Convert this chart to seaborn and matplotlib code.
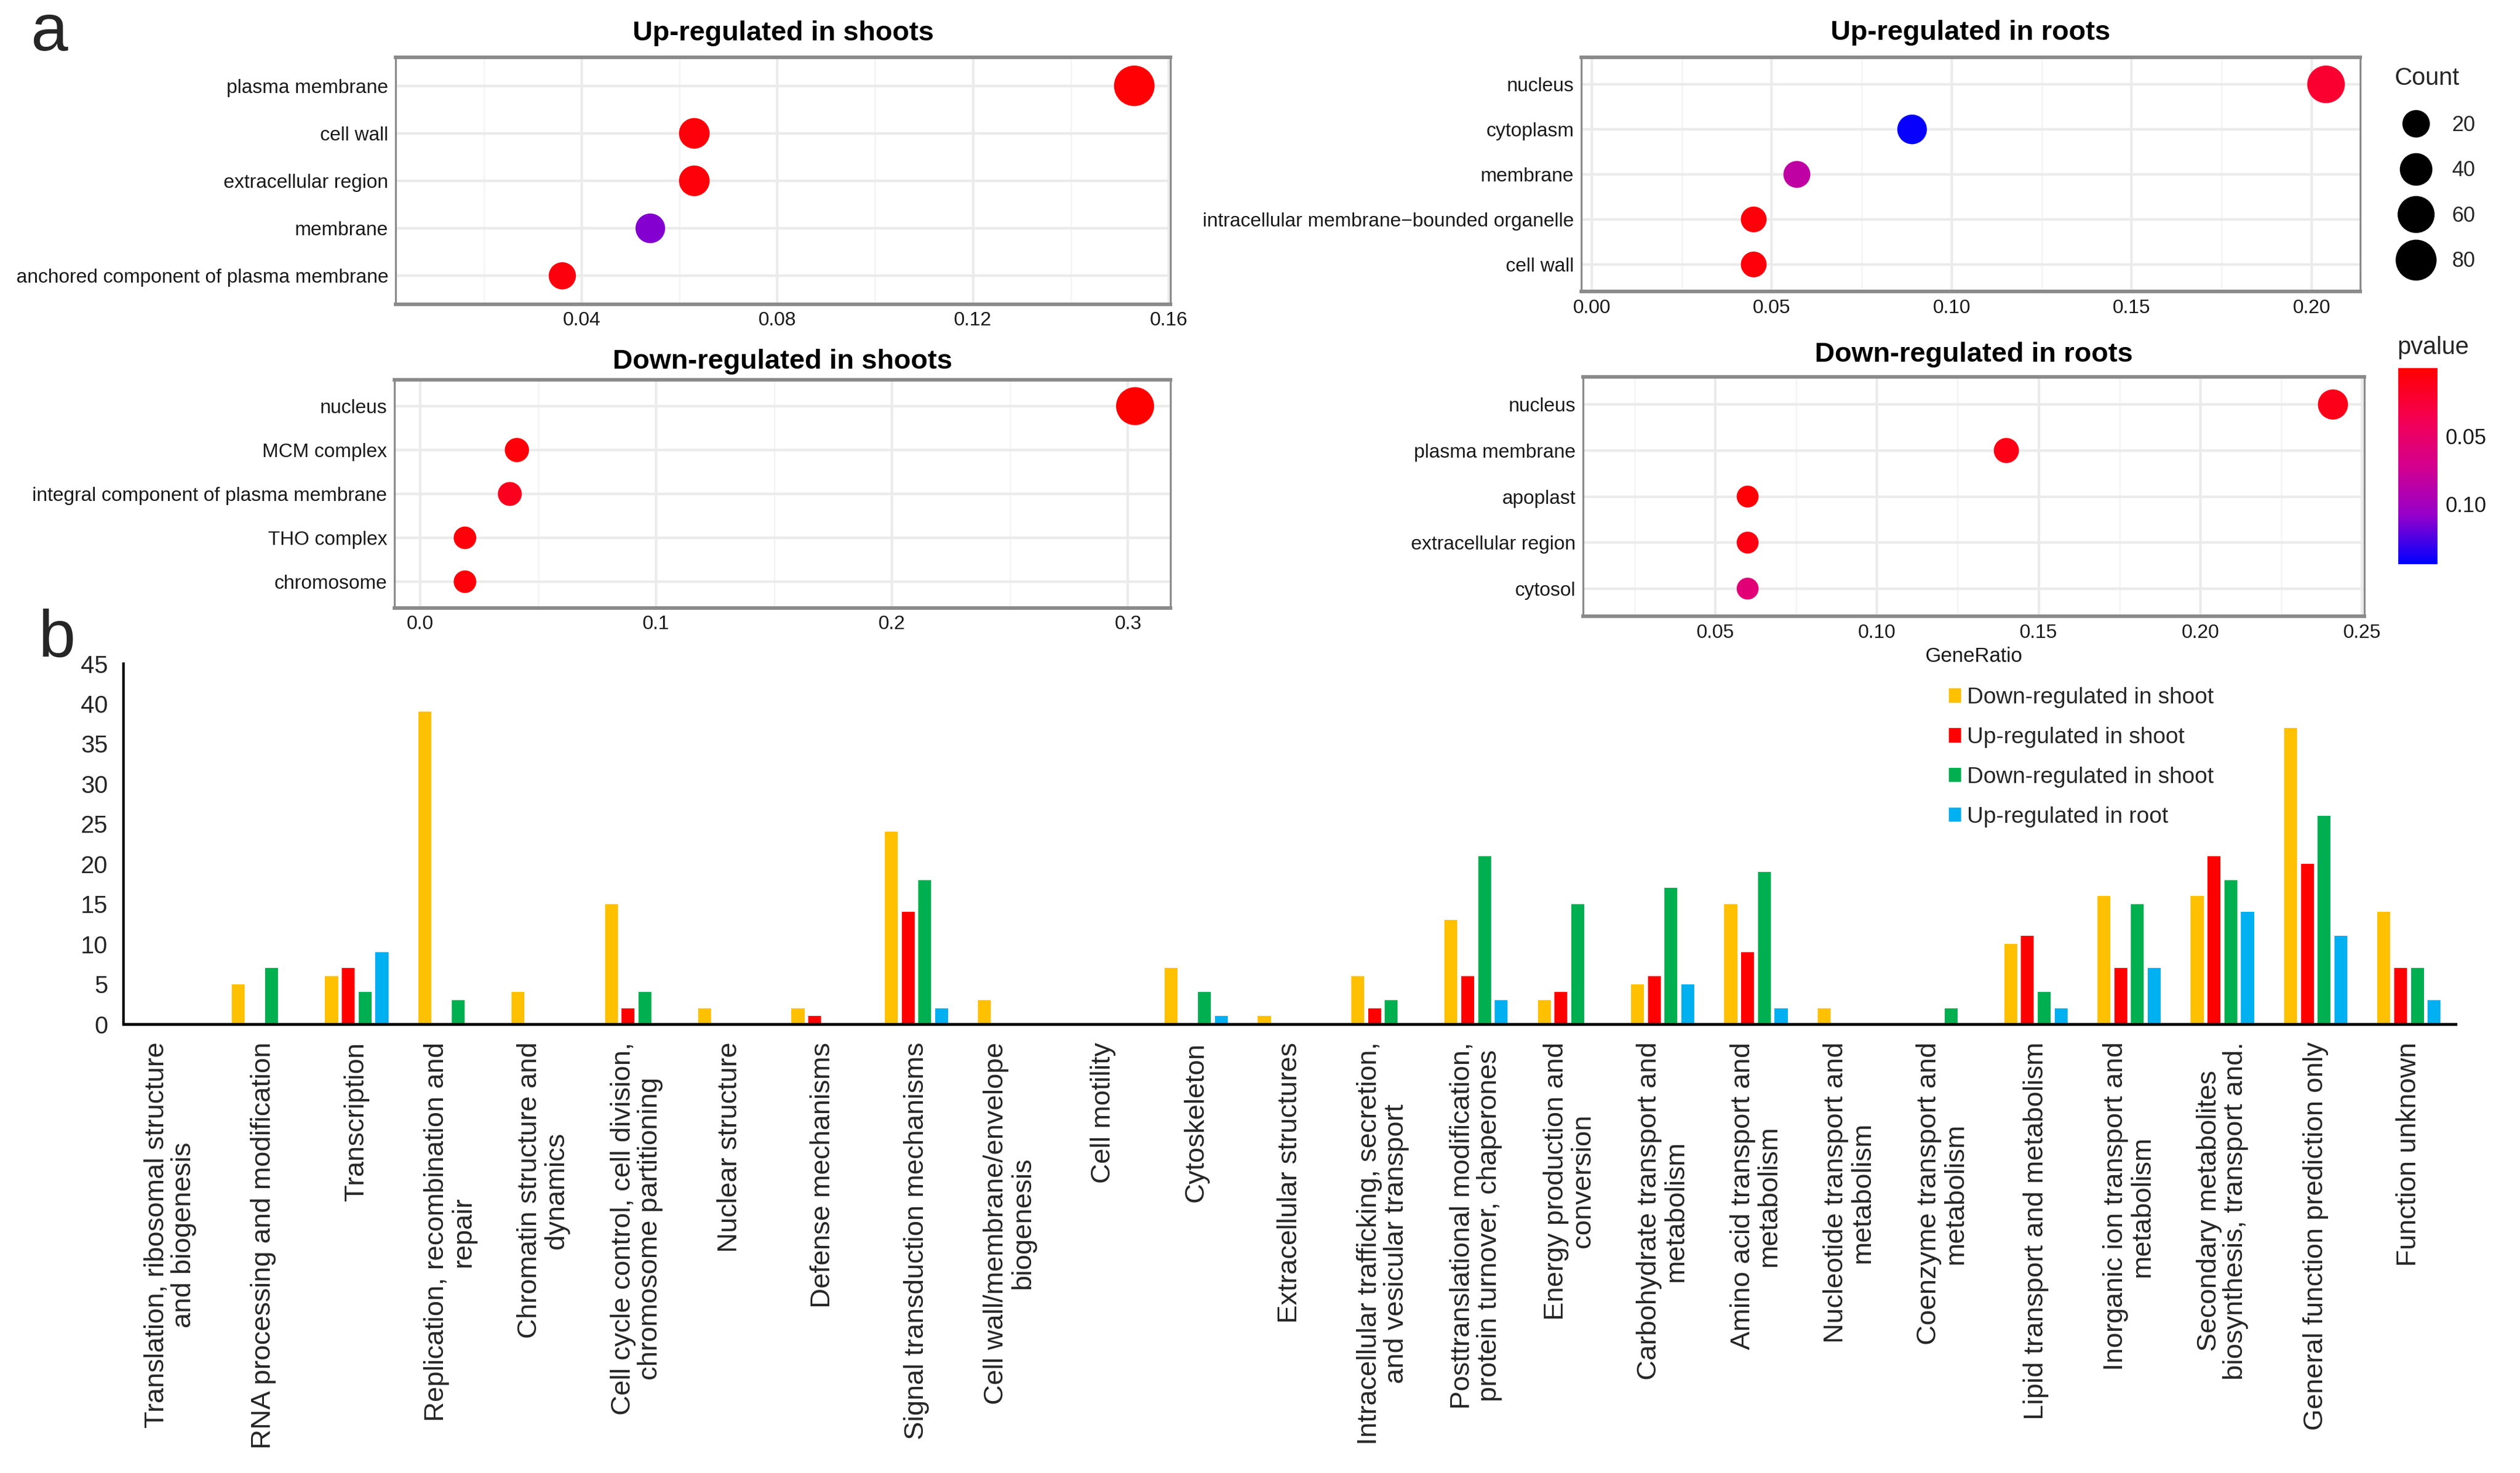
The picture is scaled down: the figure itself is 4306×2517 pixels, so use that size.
import numpy as np
import pandas as pd
import matplotlib
matplotlib.use("Agg")
import matplotlib.pyplot as plt
import seaborn as sns
from matplotlib.colors import LinearSegmentedColormap, Normalize
from matplotlib.cm import ScalarMappable
from matplotlib.lines import Line2D
from matplotlib.patches import Patch
from matplotlib.ticker import MultipleLocator, FixedLocator

# ---------------- panel a data ----------------
up_shoot_terms = ["plasma membrane", "cell wall", "extracellular region", "membrane",
                  "anchored component of plasma membrane"]
up_shoot_ratio = [0.153, 0.063, 0.063, 0.054, 0.036]
up_shoot_count = [78, 32, 32, 28, 19]
up_shoot_p = [0.002, 0.004, 0.004, 0.112, 0.006]
up_shoot_xticks = [0.04, 0.08, 0.12, 0.16]
up_shoot_xticklabels = ["0.04", "0.08", "0.12", "0.16"]

down_shoot_terms = ["nucleus", "MCM complex", "integral component of plasma membrane",
                    "THO complex", "chromosome"]
down_shoot_ratio = [0.303, 0.041, 0.038, 0.019, 0.019]
down_shoot_count = [65, 9, 8, 4, 4]
down_shoot_p = [0.001, 0.004, 0.014, 0.004, 0.004]
down_shoot_xticks = [0.0, 0.1, 0.2, 0.3]
down_shoot_xticklabels = ["0.0", "0.1", "0.2", "0.3"]

up_root_terms = ["nucleus", "cytoplasm", "membrane",
                 "intracellular membrane\u2212bounded organelle", "cell wall"]
up_root_ratio = [0.204, 0.089, 0.057, 0.045, 0.045]
up_root_count = [63, 28, 18, 14, 14]
up_root_p = [0.022, 0.142, 0.084, 0.004, 0.005]
up_root_xticks = [0.00, 0.05, 0.10, 0.15, 0.20]
up_root_xticklabels = ["0.00", "0.05", "0.10", "0.15", "0.20"]

down_root_terms = ["nucleus", "plasma membrane", "apoplast", "extracellular region", "cytosol"]
down_root_ratio = [0.241, 0.140, 0.060, 0.060, 0.060]
down_root_count = [30, 12, 2, 2, 2]
down_root_p = [0.012, 0.010, 0.003, 0.008, 0.058]
down_root_xticks = [0.05, 0.10, 0.15, 0.20, 0.25]
down_root_xticklabels = ["0.05", "0.10", "0.15", "0.20", "0.25"]

count_breaks = [20, 40, 60, 80]
pvalue_breaks = [0.05, 0.10]
pvalue_breaklabels = ["0.05", "0.10"]

# ---------------- panel b data ----------------
cog_labels = [
    "Translation, ribosomal structure\nand biogenesis",
    "RNA processing and modification",
    "Transcription",
    "Replication, recombination and\nrepair",
    "Chromatin structure and\ndynamics",
    "Cell cycle control, cell division,\nchromosome partitioning",
    "Nuclear structure",
    "Defense mechanisms",
    "Signal transduction mechanisms",
    "Cell wall/membrane/envelope\nbiogenesis",
    "Cell motility",
    "Cytoskeleton",
    "Extracellular structures",
    "Intracellular trafficking, secretion,\nand vesicular transport",
    "Posttranslational modification,\nprotein turnover, chaperones",
    "Energy production and\nconversion",
    "Carbohydrate transport and\nmetabolism",
    "Amino acid transport and\nmetabolism",
    "Nucleotide transport and\nmetabolism",
    "Coenzyme transport and\nmetabolism",
    "Lipid transport and metabolism",
    "Inorganic ion transport and\nmetabolism",
    "Secondary metabolites\nbiosynthesis, transport and.",
    "General function prediction only",
    "Function unknown",
]
down_shoot_cog = [0, 5, 6, 39, 4, 15, 2, 2, 24, 3, 0, 7, 1, 6, 13, 3, 5, 15, 2, 0, 10, 16, 16, 37, 14]
up_shoot_cog = [0, 0, 7, 0, 0, 2, 0, 1, 14, 0, 0, 0, 0, 2, 6, 4, 6, 9, 0, 0, 11, 7, 21, 20, 7]
down_root_cog = [0, 7, 4, 3, 0, 4, 0, 0, 18, 0, 0, 4, 0, 3, 21, 15, 17, 19, 0, 2, 4, 15, 18, 26, 7]
up_root_cog = [0, 0, 9, 0, 0, 0, 0, 0, 2, 0, 0, 1, 0, 0, 3, 0, 5, 2, 0, 0, 2, 7, 14, 11, 3]
group_keys = ["DS", "US", "DR", "UR"]
group_legend_labels = ["Down-regulated in shoot", "Up-regulated in shoot",
                       "Down-regulated in shoot", "Up-regulated in root"]
bar_colors = ["#FFC000", "#FF0000", "#00B050", "#00B0F0"]
bar_yticks = [0, 5, 10, 15, 20, 25, 30, 35, 40, 45]

# ---------------- style ----------------
sns.set_style("white")
plt.rcParams["font.family"] = ["Liberation Sans", "DejaVu Sans"]
plt.rcParams["axes.unicode_minus"] = True

W, H = 4306, 2517
DPI = 200
fig = plt.figure(figsize=(W / DPI, H / DPI), dpi=DPI)


def fx(px):
    return px / W


def fy(py):
    return 1 - py / H


def rect(x0, y0, x1, y1):
    return [fx(x0), fy(y1), (x1 - x0) / W, (y1 - y0) / H]


cmap = LinearSegmentedColormap.from_list(
    "rb", [(0.0, "#FF0000"), (0.25, "#F50050"), (0.5, "#D4008E"), (0.75, "#9600CA"), (1.0, "#0000FF")])
pmin, pmax = 0.0, 0.144
pnorm = Normalize(pmin, pmax)
size_range = (170, 634)
size_norm = (0, 80)

panels = [
    dict(terms=up_shoot_terms, ratio=up_shoot_ratio, count=up_shoot_count, p=up_shoot_p,
         title="Up-regulated in shoots", box=(676, 98, 2000, 520), xlim=(0.0019, 0.1604),
         ticks=up_shoot_xticks, labels=up_shoot_xticklabels, minor=0.02, toff=0.096, xlabel=""),
    dict(terms=down_shoot_terms, ratio=down_shoot_ratio, count=down_shoot_count, p=down_shoot_p,
         title="Down-regulated in shoots", box=(674, 649, 2000, 1039), xlim=(-0.0109, 0.318),
         ticks=down_shoot_xticks, labels=down_shoot_xticklabels, minor=0.05, toff=0.08, xlabel=""),
    dict(terms=up_root_terms, ratio=up_root_ratio, count=up_root_count, p=up_root_p,
         title="Up-regulated in roots", box=(2702, 98, 4033, 498), xlim=(-0.0029, 0.2135),
         ticks=up_root_xticks, labels=up_root_xticklabels, minor=0.025, toff=0.105, xlabel=""),
    dict(terms=down_root_terms, ratio=down_root_ratio, count=down_root_count, p=down_root_p,
         title="Down-regulated in roots", box=(2705, 644, 4040, 1053), xlim=(0.0091, 0.2507),
         ticks=down_root_xticks, labels=down_root_xticklabels, minor=0.025, toff=0.093,
         xlabel="GeneRatio"),
]

for pn in panels:
    ax = fig.add_axes(rect(*pn["box"]))
    df = pd.DataFrame({"Description": pn["terms"], "GeneRatio": pn["ratio"],
                       "Count": pn["count"], "pvalue": pn["p"]})
    sns.scatterplot(data=df, x="GeneRatio", y="Description", hue="pvalue", size="Count",
                    palette=cmap, hue_norm=(pmin, pmax), sizes=size_range, size_norm=size_norm,
                    edgecolor="none", linewidth=0, legend=False, ax=ax, zorder=3)
    ax.set_ylim(len(pn["terms"]) - 0.4, -0.6)
    ax.set_xlim(*pn["xlim"])
    ax.set_xticks(pn["ticks"])
    ax.set_xticklabels(pn["labels"])
    ax.xaxis.set_minor_locator(MultipleLocator(pn["minor"]))
    ax.set_axisbelow(True)
    ax.grid(True, which="major", color="#EBEBEB", lw=1.6)
    ax.grid(True, which="minor", axis="x", color="#F4F4F4", lw=0.9)
    ax.set_ylabel("")
    ax.set_xlabel(pn["xlabel"], fontsize=12.5, labelpad=3, color="#1A1A1A")
    ax.tick_params(axis="both", which="major", length=3, width=0.9, color="#555555",
                   labelsize=12, pad=1.5, labelcolor="#1A1A1A", direction="out")
    ax.tick_params(axis="x", which="minor", length=0)
    for s in ax.spines.values():
        s.set_color("#8A8A8A")
        s.set_linewidth(1.2)
    ax.spines["top"].set_linewidth(2.2)
    ax.spines["bottom"].set_linewidth(2.2)
    ax.text(0.5, 1 + pn["toff"], pn["title"], transform=ax.transAxes, ha="center", va="center",
            fontsize=17, fontweight="bold", color="black")

# Count legend
count_handles = [Line2D([], [], marker="o", linestyle="none", color="black", markeredgewidth=0,
                        markersize=np.sqrt(size_range[0] + (size_range[1] - size_range[0]) * c / size_norm[1]))
                 for c in count_breaks]
leg = fig.legend(count_handles, [str(c) for c in count_breaks], title="Count", loc="upper left",
                 bbox_to_anchor=(fx(4092), fy(114)), frameon=False, fontsize=13,
                 title_fontsize=15, labelspacing=1.18, handlelength=2.0, handletextpad=0.7,
                 borderpad=0, borderaxespad=0, alignment="left")

# pvalue colorbar
cax = fig.add_axes(rect(4098, 629, 4165, 964))
cb = fig.colorbar(ScalarMappable(norm=pnorm, cmap=cmap), cax=cax)
cax.invert_yaxis()
cb.outline.set_visible(False)
cb.set_ticks(pvalue_breaks)
cb.set_ticklabels(pvalue_breaklabels)
cax.tick_params(axis="y", direction="in", length=6, width=1.2, color="white", labelsize=13,
                pad=5, labelcolor="#1A1A1A")
fig.text(fx(4096), fy(594), "pvalue", fontsize=15, ha="left", va="center")

# ---------------- panel b ----------------
dfb = pd.DataFrame({
    "category": np.tile(cog_labels, 4),
    "group": np.repeat(group_keys, len(cog_labels)),
    "value": np.concatenate([down_shoot_cog, up_shoot_cog, down_root_cog, up_root_cog]),
})
axb = fig.add_axes(rect(211, 1134, 4196, 1750))
sns.barplot(data=dfb, x="category", y="value", hue="group", order=cog_labels, hue_order=group_keys,
            palette=dict(zip(group_keys, bar_colors)), width=0.72, gap=0.23, saturation=1,
            linewidth=0, errorbar=None, legend=False, ax=axb)
axb.set_xlim(-0.5, len(cog_labels) - 0.5)
axb.set_ylim(0, 45)
axb.set_xlabel("")
axb.set_ylabel("")
for side in ["top", "right"]:
    axb.spines[side].set_visible(False)
axb.spines["left"].set_linewidth(1.6)
axb.spines["left"].set_color("black")
axb.spines["bottom"].set_linewidth(1.8)
axb.spines["bottom"].set_color("black")
axb.set_yticks(bar_yticks)
axb.yaxis.set_minor_locator(MultipleLocator(1))
axb.tick_params(axis="y", which="both", direction="out", length=4.5, width=1.3, color="black",
                labelsize=15, pad=5)
axb.set_xticks(range(len(cog_labels)))
axb.set_xticklabels(cog_labels)
axb.xaxis.set_minor_locator(FixedLocator(np.arange(-0.5, len(cog_labels), 1.0)))
axb.tick_params(axis="x", which="major", length=0, pad=11, labelsize=17, labelrotation=90)
axb.tick_params(axis="x", which="minor", length=5, width=1.3, color="black", direction="out")
for t in axb.get_xticklabels():
    t.set_multialignment("center")
    t.set_linespacing(1.05)

bar_handles = [Patch(facecolor=c, edgecolor="none") for c in bar_colors]
fig.legend(bar_handles, group_legend_labels, loc="upper left", bbox_to_anchor=(fx(3330), fy(1174)),
           frameon=False, fontsize=14, handlelength=0.55, handleheight=0.6, handletextpad=0.25,
           labelspacing=0.82, borderpad=0, borderaxespad=0)

# panel letters
fig.text(fx(52), fy(86), "a", fontsize=41, va="baseline", ha="left")
fig.text(fx(66), fy(1122), "b", fontsize=41, va="baseline", ha="left")

fig.savefig("out.png", dpi=DPI, facecolor="white")
